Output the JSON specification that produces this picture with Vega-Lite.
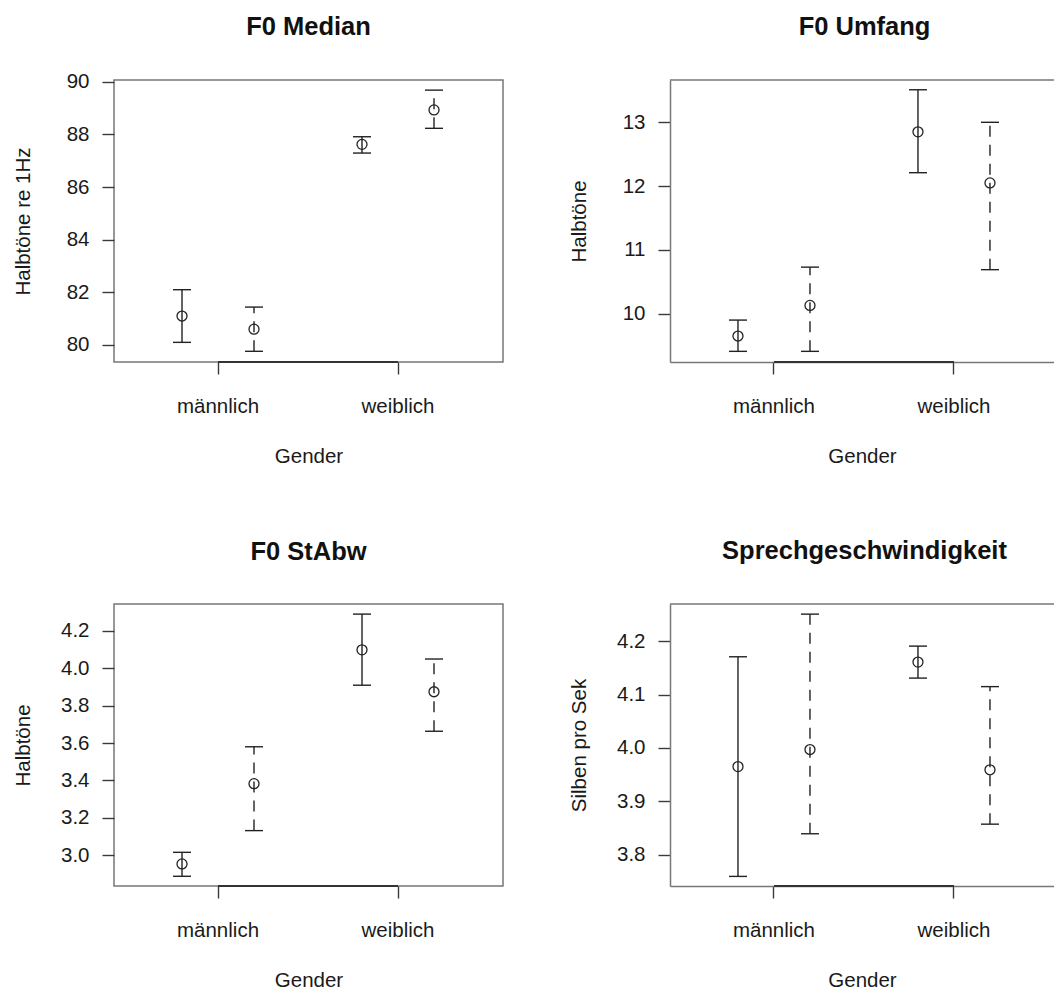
{
  "$schema": "https://vega.github.io/schema/vega-lite/v6.json",
  "background": "white",
  "padding": {"left": 12, "top": 14, "right": 0, "bottom": 0},
  "autosize": {"type": "pad"},
  "bounds": "flush",
  "columns": 2,
  "spacing": {"row": 242, "column": 167},
  "datasets": {
    "median": [
      {"gender": "männlich", "series": "A", "mean": 81.10, "lo": 80.10, "hi": 82.10},
      {"gender": "männlich", "series": "B", "mean": 80.60, "lo": 79.76, "hi": 81.44},
      {"gender": "weiblich", "series": "A", "mean": 87.62, "lo": 87.29, "hi": 87.91},
      {"gender": "weiblich", "series": "B", "mean": 88.93, "lo": 88.23, "hi": 89.68}
    ],
    "umfang": [
      {"gender": "männlich", "series": "A", "mean": 9.65, "lo": 9.41, "hi": 9.90},
      {"gender": "männlich", "series": "B", "mean": 10.13, "lo": 9.41, "hi": 10.73},
      {"gender": "weiblich", "series": "A", "mean": 12.85, "lo": 12.21, "hi": 13.51},
      {"gender": "weiblich", "series": "B", "mean": 12.05, "lo": 10.69, "hi": 13.00}
    ],
    "stabw": [
      {"gender": "männlich", "series": "A", "mean": 2.954, "lo": 2.888, "hi": 3.016},
      {"gender": "männlich", "series": "B", "mean": 3.383, "lo": 3.132, "hi": 3.580},
      {"gender": "weiblich", "series": "A", "mean": 4.098, "lo": 3.909, "hi": 4.289},
      {"gender": "weiblich", "series": "B", "mean": 3.874, "lo": 3.663, "hi": 4.049}
    ],
    "tempo": [
      {"gender": "männlich", "series": "A", "mean": 3.965, "lo": 3.759, "hi": 4.171},
      {"gender": "männlich", "series": "B", "mean": 3.997, "lo": 3.839, "hi": 4.251},
      {"gender": "weiblich", "series": "A", "mean": 4.161, "lo": 4.131, "hi": 4.191},
      {"gender": "weiblich", "series": "B", "mean": 3.959, "lo": 3.857, "hi": 4.115}
    ]
  },
  "concat": [
    {
      "width": 389, "height": 282,
      "title": {"text": "F0 Median", "offset": 31},
      "view": {"stroke": "#777", "strokeWidth": 1.5},
      "data": {"name": "median"},
      "layer": [
        {"mark": {"type": "rule", "color": "#222", "strokeWidth": 1.4},
         "encoding": {
           "x": {"field": "gender", "type": "nominal", "title": "Gender", "scale": {"type": "band", "domain": ["männlich", "weiblich"], "paddingInner": 0.6, "paddingOuter": 0.3806, "align": 0.4964}, "axis": {"bandPosition": 0.5, "labelAngle": 0, "domain": false}},
           "xOffset": {"field": "series", "type": "nominal", "scale": {"type": "point", "padding": 0, "domain": ["A", "B"]}},
           "y": {"field": "lo", "type": "quantitative", "title": "Halbtöne re 1Hz", "scale": {"domain": [79.354, 90.065], "nice": false, "zero": false}, "axis": {"values": [80, 82, 84, 86, 88, 90], "domain": false}},
           "y2": {"field": "hi"},
           "strokeDash": {"field": "series", "type": "nominal", "scale": {"domain": ["A", "B"], "range": [[1, 0], [11, 8]]}, "legend": null}
         }},
        {"mark": {"type": "tick", "orient": "horizontal", "size": 18, "thickness": 1.4, "color": "#222", "opacity": 1},
         "encoding": {
           "x": {"field": "gender", "type": "nominal", "title": "Gender"},
           "xOffset": {"field": "series", "type": "nominal"},
           "y": {"field": "hi", "type": "quantitative", "title": "Halbtöne re 1Hz"}
         }},
        {"mark": {"type": "tick", "orient": "horizontal", "size": 18, "thickness": 1.4, "color": "#222", "opacity": 1},
         "encoding": {
           "x": {"field": "gender", "type": "nominal", "title": "Gender"},
           "xOffset": {"field": "series", "type": "nominal"},
           "y": {"field": "lo", "type": "quantitative", "title": "Halbtöne re 1Hz"}
         }},
        {"mark": {"type": "point", "shape": "circle", "filled": false, "size": 100, "strokeWidth": 1.3, "color": "#222", "opacity": 1},
         "encoding": {
           "x": {"field": "gender", "type": "nominal", "title": "Gender"},
           "xOffset": {"field": "series", "type": "nominal"},
           "y": {"field": "mean", "type": "quantitative", "title": "Halbtöne re 1Hz"}
         }},
        {"data": {"values": [{}]},
         "mark": {"type": "rule", "color": "#333", "strokeWidth": 2},
         "encoding": {"x": {"datum": "männlich"}, "x2": {"datum": "weiblich"}, "y": {"datum": 79.354}}}
      ]
    },
    {
      "width": 384, "height": 282,
      "title": {"text": "F0 Umfang", "offset": 39, "dx": 2.5},
      "view": {"stroke": null},
      "data": {"name": "umfang"},
      "layer": [
        {"mark": {"type": "rule", "color": "#222", "strokeWidth": 1.4},
         "encoding": {
           "x": {"field": "gender", "type": "nominal", "title": "Gender", "scale": {"type": "band", "domain": ["männlich", "weiblich"], "paddingInner": 0.6, "paddingOuter": 0.3667, "align": 0.515}, "axis": {"bandPosition": 0.5, "labelAngle": 0, "domain": true}},
           "xOffset": {"field": "series", "type": "nominal", "scale": {"type": "point", "padding": 0, "domain": ["A", "B"]}},
           "y": {"field": "lo", "type": "quantitative", "title": "Halbtöne", "scale": {"domain": [9.243, 13.663], "nice": false, "zero": false}, "axis": {"values": [10, 11, 12, 13], "format": "d", "domain": true}},
           "y2": {"field": "hi"},
           "strokeDash": {"field": "series", "type": "nominal", "scale": {"domain": ["A", "B"], "range": [[1, 0], [11, 8]]}, "legend": null}
         }},
        {"mark": {"type": "tick", "orient": "horizontal", "size": 18, "thickness": 1.4, "color": "#222", "opacity": 1},
         "encoding": {
           "x": {"field": "gender", "type": "nominal", "title": "Gender"},
           "xOffset": {"field": "series", "type": "nominal"},
           "y": {"field": "hi", "type": "quantitative", "title": "Halbtöne"}
         }},
        {"mark": {"type": "tick", "orient": "horizontal", "size": 18, "thickness": 1.4, "color": "#222", "opacity": 1},
         "encoding": {
           "x": {"field": "gender", "type": "nominal", "title": "Gender"},
           "xOffset": {"field": "series", "type": "nominal"},
           "y": {"field": "lo", "type": "quantitative", "title": "Halbtöne"}
         }},
        {"mark": {"type": "point", "shape": "circle", "filled": false, "size": 100, "strokeWidth": 1.3, "color": "#222", "opacity": 1},
         "encoding": {
           "x": {"field": "gender", "type": "nominal", "title": "Gender"},
           "xOffset": {"field": "series", "type": "nominal"},
           "y": {"field": "mean", "type": "quantitative", "title": "Halbtöne"}
         }},
        {"data": {"values": [{}]},
         "mark": {"type": "rule", "color": "#777", "strokeWidth": 1.5},
         "encoding": {"y": {"datum": 13.663}}},
        {"data": {"values": [{}]},
         "mark": {"type": "rule", "color": "#333", "strokeWidth": 2},
         "encoding": {"x": {"datum": "männlich"}, "x2": {"datum": "weiblich"}, "y": {"datum": 9.243}}}
      ]
    },
    {
      "width": 389, "height": 282,
      "title": {"text": "F0 StAbw", "offset": 39},
      "view": {"stroke": "#777", "strokeWidth": 1.5},
      "data": {"name": "stabw"},
      "layer": [
        {"mark": {"type": "rule", "color": "#222", "strokeWidth": 1.4},
         "encoding": {
           "x": {"field": "gender", "type": "nominal", "title": "Gender", "scale": {"type": "band", "domain": ["männlich", "weiblich"], "paddingInner": 0.6, "paddingOuter": 0.3806, "align": 0.4964}, "axis": {"bandPosition": 0.5, "labelAngle": 0, "domain": false}},
           "xOffset": {"field": "series", "type": "nominal", "scale": {"type": "point", "padding": 0, "domain": ["A", "B"]}},
           "y": {"field": "lo", "type": "quantitative", "title": "Halbtöne", "scale": {"domain": [2.836, 4.343], "nice": false, "zero": false}, "axis": {"values": [3.0, 3.2, 3.4, 3.6, 3.8, 4.0, 4.2], "format": ".1f", "domain": false}},
           "y2": {"field": "hi"},
           "strokeDash": {"field": "series", "type": "nominal", "scale": {"domain": ["A", "B"], "range": [[1, 0], [11, 8]]}, "legend": null}
         }},
        {"mark": {"type": "tick", "orient": "horizontal", "size": 18, "thickness": 1.4, "color": "#222", "opacity": 1},
         "encoding": {
           "x": {"field": "gender", "type": "nominal", "title": "Gender"},
           "xOffset": {"field": "series", "type": "nominal"},
           "y": {"field": "hi", "type": "quantitative", "title": "Halbtöne"}
         }},
        {"mark": {"type": "tick", "orient": "horizontal", "size": 18, "thickness": 1.4, "color": "#222", "opacity": 1},
         "encoding": {
           "x": {"field": "gender", "type": "nominal", "title": "Gender"},
           "xOffset": {"field": "series", "type": "nominal"},
           "y": {"field": "lo", "type": "quantitative", "title": "Halbtöne"}
         }},
        {"mark": {"type": "point", "shape": "circle", "filled": false, "size": 100, "strokeWidth": 1.3, "color": "#222", "opacity": 1},
         "encoding": {
           "x": {"field": "gender", "type": "nominal", "title": "Gender"},
           "xOffset": {"field": "series", "type": "nominal"},
           "y": {"field": "mean", "type": "quantitative", "title": "Halbtöne"}
         }},
        {"data": {"values": [{}]},
         "mark": {"type": "rule", "color": "#333", "strokeWidth": 2},
         "encoding": {"x": {"datum": "männlich"}, "x2": {"datum": "weiblich"}, "y": {"datum": 2.836}}}
      ]
    },
    {
      "width": 384, "height": 282,
      "title": {"text": "Sprechgeschwindigkeit", "offset": 39, "dx": 2.5},
      "view": {"stroke": null},
      "data": {"name": "tempo"},
      "layer": [
        {"mark": {"type": "rule", "color": "#222", "strokeWidth": 1.4},
         "encoding": {
           "x": {"field": "gender", "type": "nominal", "title": "Gender", "scale": {"type": "band", "domain": ["männlich", "weiblich"], "paddingInner": 0.6, "paddingOuter": 0.3667, "align": 0.515}, "axis": {"bandPosition": 0.5, "labelAngle": 0, "domain": true}},
           "xOffset": {"field": "series", "type": "nominal", "scale": {"type": "point", "padding": 0, "domain": ["A", "B"]}},
           "y": {"field": "lo", "type": "quantitative", "title": "Silben pro Sek", "scale": {"domain": [3.741, 4.270], "nice": false, "zero": false}, "axis": {"values": [3.8, 3.9, 4.0, 4.1, 4.2], "format": ".1f", "domain": true}},
           "y2": {"field": "hi"},
           "strokeDash": {"field": "series", "type": "nominal", "scale": {"domain": ["A", "B"], "range": [[1, 0], [11, 8]]}, "legend": null}
         }},
        {"mark": {"type": "tick", "orient": "horizontal", "size": 18, "thickness": 1.4, "color": "#222", "opacity": 1},
         "encoding": {
           "x": {"field": "gender", "type": "nominal", "title": "Gender"},
           "xOffset": {"field": "series", "type": "nominal"},
           "y": {"field": "hi", "type": "quantitative", "title": "Silben pro Sek"}
         }},
        {"mark": {"type": "tick", "orient": "horizontal", "size": 18, "thickness": 1.4, "color": "#222", "opacity": 1},
         "encoding": {
           "x": {"field": "gender", "type": "nominal", "title": "Gender"},
           "xOffset": {"field": "series", "type": "nominal"},
           "y": {"field": "lo", "type": "quantitative", "title": "Silben pro Sek"}
         }},
        {"mark": {"type": "point", "shape": "circle", "filled": false, "size": 100, "strokeWidth": 1.3, "color": "#222", "opacity": 1},
         "encoding": {
           "x": {"field": "gender", "type": "nominal", "title": "Gender"},
           "xOffset": {"field": "series", "type": "nominal"},
           "y": {"field": "mean", "type": "quantitative", "title": "Silben pro Sek"}
         }},
        {"data": {"values": [{}]},
         "mark": {"type": "rule", "color": "#777", "strokeWidth": 1.5},
         "encoding": {"y": {"datum": 4.270}}},
        {"data": {"values": [{}]},
         "mark": {"type": "rule", "color": "#333", "strokeWidth": 2},
         "encoding": {"x": {"datum": "männlich"}, "x2": {"datum": "weiblich"}, "y": {"datum": 3.741}}}
      ]
    }
  ],
  "config": {
    "font": "Liberation Sans",
    "view": {"stroke": null},
    "axis": {"grid": false, "domain": false, "tickColor": "#3a3a3a", "tickWidth": 1.4, "tickSize": 12, "labelFont": "Liberation Sans", "labelFontSize": 20.5, "labelColor": "#1a1a1a", "titleFont": "Liberation Sans", "titleFontSize": 20.5, "titleFontWeight": "normal", "titleColor": "#1a1a1a", "domainColor": "#777", "domainWidth": 1.5},
    "axisX": {"labelPadding": 22, "minExtent": 60, "maxExtent": 60, "titlePadding": 24, "labelAngle": 0},
    "axisY": {"labelPadding": 13, "minExtent": 60, "maxExtent": 60, "titlePadding": 21},
    "title": {"font": "Liberation Sans", "fontSize": 25.5, "fontWeight": "bold", "color": "#111", "anchor": "middle", "frame": "group"}
  }
}
